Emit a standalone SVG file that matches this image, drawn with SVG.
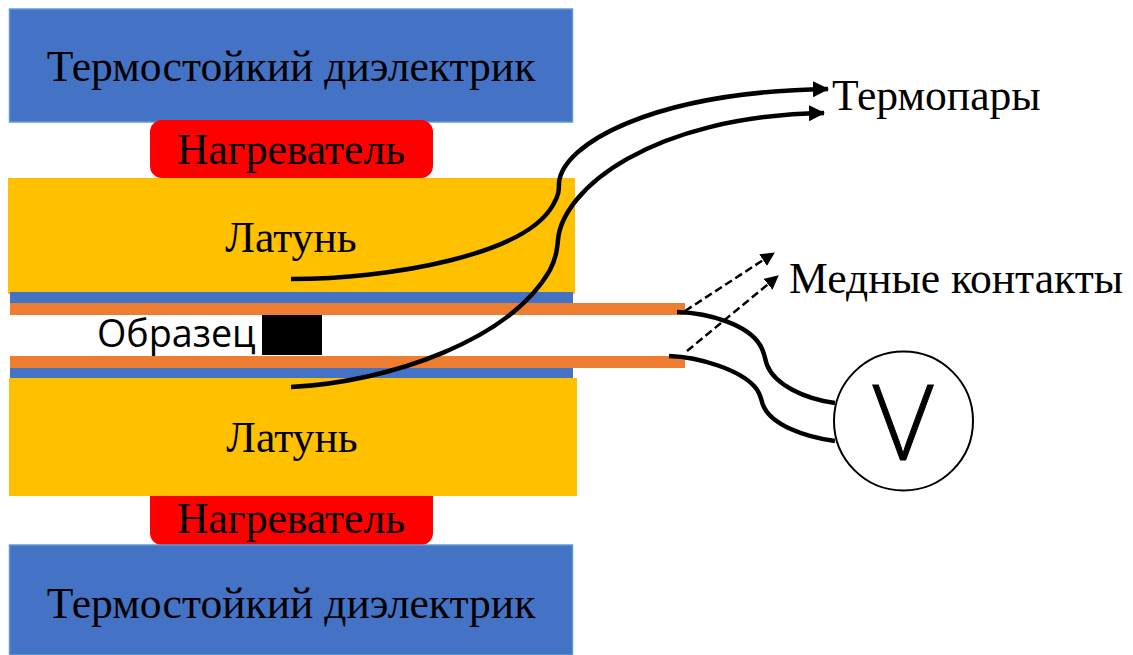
<svg xmlns="http://www.w3.org/2000/svg" width="1133" height="655" viewBox="0 0 1133 655">
<style>
.t{font-family:"Liberation Serif",serif;font-size:43.6px;fill:#000}
.b{fill:#4472c4}
.bs{fill:#4472c4;stroke:#5b9bd5;stroke-width:1.5}
.y{fill:#ffc000}
.o{fill:#ed7d31}
.r{fill:#ff0000}
.w{fill:none;stroke:#000;stroke-width:4.5;stroke-linecap:butt}
.d{fill:none;stroke:#000;stroke-width:2.5;stroke-dasharray:8 4}
</style>
<defs>
<marker id="a" markerUnits="userSpaceOnUse" markerWidth="16" markerHeight="16" refX="15" refY="8" orient="auto"><path d="M0 0L16 8L0 16z" fill="#000"/></marker>
<marker id="da" markerUnits="userSpaceOnUse" markerWidth="14" markerHeight="14" refX="13" refY="7" orient="auto"><path d="M0 0L14 7L0 14z" fill="#000"/></marker>
</defs>
<rect width="1133" height="655" fill="#fff"/>
<g id="diel-top"><rect class="bs" x="9.500" y="9" width="563" height="113"/><text class="t" x="291" y="81" text-anchor="middle">Термостойкий диэлектрик</text></g>
<g id="heater-top"><rect class="r" x="150" y="120" width="283" height="58" rx="12"/><text class="t" x="291" y="164" text-anchor="middle">Нагреватель</text></g>
<g id="brass-top"><rect class="y" x="8" y="178" width="567" height="116"/><text class="t" x="291" y="252" text-anchor="middle">Латунь</text></g>
<g id="ins-top"><rect class="b" x="10" y="292" width="563" height="11"/></g>
<g id="cu-top"><rect class="o" x="10" y="303" width="675" height="12"/></g>
<g id="sample"><text x="97" y="347" font-family="'Open Sans','Noto Sans',sans-serif" font-size="37.700" fill="#000">Образец</text><rect x="262" y="315" width="60" height="40" fill="#000"/></g>
<g id="cu-bot"><rect class="o" x="10" y="356" width="675" height="12"/></g>
<g id="ins-bot"><rect class="b" x="10" y="368" width="563" height="10"/></g>
<g id="brass-bot"><rect class="y" x="9" y="378" width="568" height="118"/><text class="t" x="292" y="452" text-anchor="middle">Латунь</text></g>
<g id="heater-bot"><path class="r" d="M150 496H433V533A12 12 0 0 1 421 545H162A12 12 0 0 1 150 533z"/><text class="t" x="291" y="533" text-anchor="middle">Нагреватель</text></g>
<g id="diel-bot"><rect class="bs" x="9.500" y="545" width="563" height="110"/><text class="t" x="291" y="618" text-anchor="middle">Термостойкий диэлектрик</text></g>
<g id="voltmeter"><circle cx="903.500" cy="421" r="69.500" fill="#fff" stroke="#000" stroke-width="2"/><text x="903" y="460" text-anchor="middle" font-family="'Open Sans',sans-serif" font-weight="300" font-size="105" fill="#000" stroke="#000" stroke-width="1">V</text></g>
<g id="labels"><text class="t" x="832" y="110">Термопары</text><text class="t" x="789" y="293">Медные контакты</text></g>
<g id="connectors">
<path class="w" marker-end="url(#a)" d="M291 279C390 279 525 255 553 205C559 195 559 190 559 183C562 145 650 92 828 89"/>
<path class="w" marker-end="url(#a)" d="M291 387C390 382 510 340 550 270C556 258 557 250 558 240C562 190 650 116 824 113"/>
<path class="d" marker-end="url(#da)" d="M685 311L774 253"/>
<path class="d" marker-end="url(#da)" d="M687 351L778 276"/>
<path class="w" d="M677 312C710 313 748 325 760 345C765 353 765 360 767 365C775 385 805 399 835 403"/>
<path class="w" d="M669 356C700 357 740 370 755 387C761 394 761 400 763 405C771 425 805 437 835 441"/>
</g>
</svg>
